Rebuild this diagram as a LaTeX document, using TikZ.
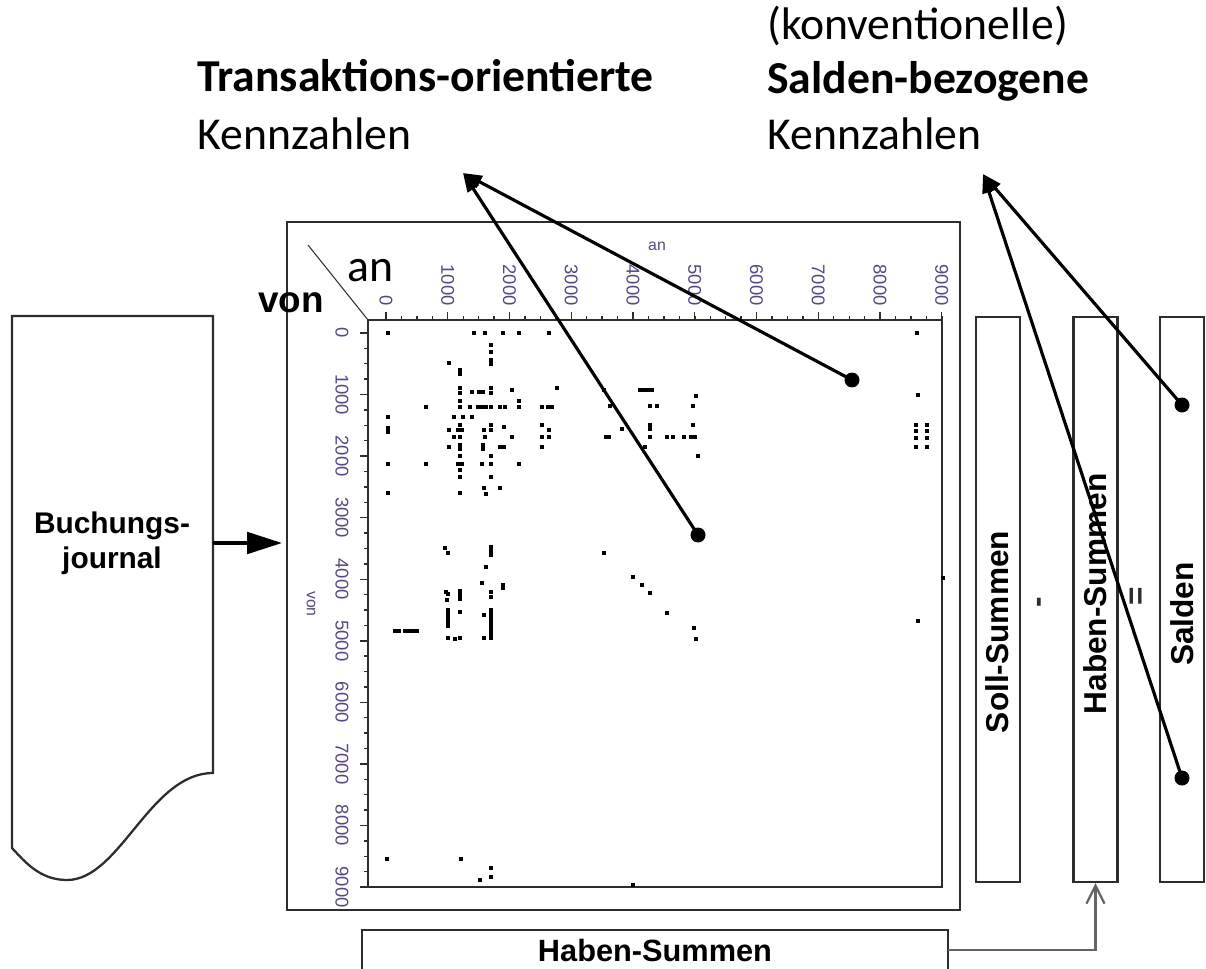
\documentclass[tikz,border=0pt]{standalone}
\usepackage{fontspec}
\setmainfont{Carlito}
\newfontfamily\arialfont{Liberation Sans}
\usetikzlibrary{arrows.meta}
\definecolor{tickcol}{RGB}{88,72,128}
\definecolor{boxcol}{RGB}{45,45,45}
\definecolor{linkgray}{RGB}{100,100,100}

\begin{document}
\begin{tikzpicture}[x=0.02cm,y=-0.02cm]
\tikzset{outerframe/.style={line width=1.2pt,boxcol}}

\tikzset{sumBox/.style={
rectangle,draw=boxcol,line width=1.3pt,
minimum width=0.88cm,
minimum height=11.3cm,
inner sep=0pt}}

\tikzset{sumText/.style={
rotate=90,inner sep=0pt,
font=\arialfont\bfseries\fontsize{18}{20}\selectfont}}

\tikzset{headline/.style={
anchor=base west,inner sep=0pt,
font=\fontsize{26}{30}\selectfont}}

\tikzset{tickLabel/.style={
rotate=-90,inner sep=0pt,tickcol,
font=\arialfont\fontsize{10.5}{12}\selectfont}}

\tikzset{knob/.style={circle,fill=black,inner sep=0pt,minimum size=3mm}}
\tikzset{pointer/.style={line width=1.8pt,-{Triangle[length=3.8mm,width=2.6mm]}}}

\useasboundingbox (0,0) rectangle (1206,969);

% headings
\path
(197,92) node[headline,name=tTrans] {\bfseries Transaktions-orientierte}
(197,150) node[headline,name=tTransKz] {Kennzahlen}
(767,40) node[headline,name=tKonv] {(konventionelle)}
(767,94) node[headline,name=tSald] {\bfseries Salden-bezogene}
(767,150) node[headline,name=tSaldKz] {Kennzahlen};

% journal
\draw[outerframe,line width=1.3pt]
(12,848) -- (12,316) -- (213,316) -- (213,773)
.. controls (150,773) and (120,880) .. (67,880)
.. controls (40,880) and (25,862) .. (12,848) -- cycle;

\path (112,543)
node[align=center,name=uJournal,
font=\arialfont\bfseries\fontsize{17}{20}\selectfont]
{Buchungs-\\journal};

% matrix
\draw[outerframe] (287,222) rectangle (960,910);
\draw[outerframe,line width=1pt] (368,320) rectangle (942,887);
\draw[boxcol,line width=0.6pt] (308,245) -- (368,320);

\foreach \k in {0,...,36}{
\draw[boxcol,line width=0.8pt] (386+15.44*\k,320) -- ++(0,-4);
\draw[boxcol,line width=0.8pt] (368,333+15.39*\k) -- ++(-4,0);
}

\foreach \k in {0,...,9}{
\pgfmathtruncatemacro\val{1000*\k}
\draw[boxcol,line width=0.8pt] (386+61.75*\k,320) -- ++(0,-8);
\draw[boxcol,line width=0.8pt] (368,333+61.56*\k) -- ++(-8,0);
\path (386+61.75*\k,306) node[tickLabel,anchor=east] {\val};
\path (342,333+61.56*\k) node[tickLabel] {\val};
}

\path
(657,246) node[inner sep=0pt,tickcol,name=lAnSmall,
font=\arialfont\fontsize{9}{11}\selectfont] {an}
(311,604) node[tickLabel,name=lVonSmall,
font=\arialfont\fontsize{9}{11}\selectfont] {von}
(347,282) node[anchor=base west,inner sep=0pt,name=lAn,
font=\fontsize{26}{30}\selectfont] {an}
(258,313) node[anchor=base west,inner sep=0pt,name=lVon,
font=\arialfont\bfseries\fontsize{21}{24}\selectfont] {von};

% entries
\foreach \x/\y in {
388/333, 474/333, 485/333, 503/333, 519/333, 549/333, 917/333,
491/345, 491/352, 491/360, 491/364, 449/363, 460/370, 460/374,
460/388, 460/393, 472/392, 479/392, 483/392, 491/388, 491/393,
512/390, 557/388, 604/390, 640/390, 644/390, 648/390, 652/390,
696/396, 918/395, 460/401, 519/401,
426/407, 460/407, 470/407, 478/407, 482/407, 486/407, 491/407,
500/407, 505/407, 519/407, 542/407, 548/407, 552/407, 610/406,
650/406, 657/406, 693/406,
388/417, 454/417, 463/417, 472/417,
460/425, 491/425, 504/427, 542/425, 650/425, 693/425,
388/428, 388/432, 449/430, 458/430, 462/430, 484/430, 491/430,
549/430, 622/429, 650/429,
916/425, 916/431, 916/438, 916/447, 927/425, 927/431, 927/438, 927/447,
454/437, 460/437, 485/437, 512/437, 542/437, 549/437, 606/437,
609/437, 650/437, 667/437, 673/437, 684/437, 691/437, 695/437,
449/447, 460/445, 460/449, 483/445, 483/449, 500/447, 504/447,
542/447, 645/447, 460/456, 491/456, 698/456,
388/464, 426/464, 458/464, 462/464, 482/464, 491/464, 519/464,
460/470, 460/477, 491/477, 484/488, 500/488, 388/493, 460/493, 486/494,
445/548, 448/553, 491/547, 491/551, 491/555, 486/567, 482/583,
503/585, 503/588, 446/592, 448/594, 460/591, 460/595, 460/599,
491/592, 491/597, 447/600, 460/612, 448/610, 448/614, 448/618,
448/622, 448/626, 484/615, 491/610, 491/614, 491/618, 491/622,
491/626, 491/630, 395/631, 399/631, 405/631, 409/631, 413/631,
417/631, 448/638, 455/639, 460/638, 484/638, 491/638, 491/634,
604/553, 633/577, 642/585, 650/593, 667/613, 694/628, 696/639,
918/621, 943/578,
387/859, 461/859, 491/868, 491/877, 480/880, 633/885}
\fill (\x-1.7,\y-1.7) rectangle ++(3.4,3.4);

\path (213,543) coordinate (uJournalOut) (282,543) coordinate (uMatrixIn);
\draw[line width=2.2pt,-{Triangle[length=7mm,width=4.3mm]}]
(uJournalOut) -- (uMatrixIn);

% sums
\path
(998,599.5) node[sumBox,name=uSollSum] {}
(1095.5,599.5) node[sumBox,name=uHabenSum] {}
(1182,599.5) node[sumBox,name=uSalden] {}
(997,632) node[sumText] {Soll-Summen}
(1095,594) node[sumText] {Haben-Summen}
(1182,614) node[sumText] {Salden}
(1042,602) node[sumText,boxcol] {-}
(1138,596) node[sumText,boxcol] {=};

\path (655,929)
node[anchor=north,draw=boxcol,line width=1.3pt,
minimum width=11.72cm,inner ysep=5pt,text depth=30pt,
font=\arialfont\bfseries\fontsize{17.5}{20}\selectfont,
name=uHabenSumBottom] {Haben-Summen};

\path (948,950) coordinate (uHabenSumOut);
\draw[linkgray,line width=1.3pt,-{Straight Barb[length=3.6mm,width=3.6mm]}]
(uHabenSumOut) -| (uHabenSum.south);

% pointers
\path
(463,173) coordinate (uTransTip)
(983,174) coordinate (uSaldTip)
(852,380) node[knob,name=uDotTransA] {}
(698,535) node[knob,name=uDotTransB] {}
(1182,405) node[knob,name=uDotSaldA] {}
(1182,778) node[knob,name=uDotSaldB] {};

\draw[pointer] (uDotTransA.center) -- (uTransTip);
\draw[pointer] (uDotTransB.center) -- (uTransTip);
\draw[pointer] (uDotSaldA.center) -- (uSaldTip);
\draw[pointer] (uDotSaldB.center) -- (uSaldTip);

\end{tikzpicture}
\end{document}
